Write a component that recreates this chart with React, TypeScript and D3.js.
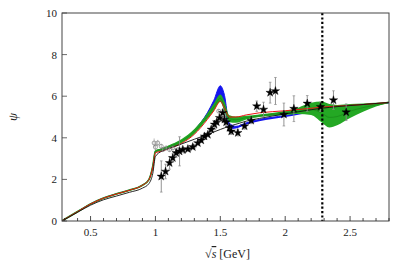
import React, { useRef, useEffect } from 'react';
import * as d3 from 'd3';

// grid of sqrt(s) values (GeV) the theory curves are read at
const xs = [0.28, 0.4, 0.5, 0.6, 0.7, 0.8, 0.9, 0.95, 0.98, 1.0, 1.05, 1.1, 1.2, 1.3, 1.4, 1.45, 1.5, 1.53, 1.57, 1.62, 1.7, 1.8, 2.0, 2.1, 2.2, 2.28, 2.34, 2.4, 2.5, 2.6, 2.7, 2.8];

// green band (upper / lower) and its central line
const greenUp = [0.02, 0.47, 0.84, 1.12, 1.32, 1.5, 1.74, 2.02, 2.68, 3.4, 3.5, 3.63, 3.93, 4.42, 5.18, 5.65, 6.08, 5.78, 5.08, 5.02, 5.06, 5.12, 5.3, 5.45, 5.68, 5.74, 5.62, 5.58, 5.62, 5.65, 5.68, 5.73];
const greenLow = [0, 0.43, 0.8, 1.08, 1.28, 1.46, 1.7, 1.96, 2.6, 3.3, 3.38, 3.48, 3.74, 4.18, 4.9, 5.3, 5.72, 5.3, 4.75, 4.72, 4.88, 5.0, 5.1, 5.15, 5.1, 4.75, 4.5, 4.6, 4.95, 5.25, 5.5, 5.68];
const greenMid = [0.01, 0.45, 0.82, 1.1, 1.3, 1.48, 1.72, 1.99, 2.64, 3.35, 3.44, 3.56, 3.84, 4.3, 5.04, 5.48, 5.9, 5.54, 4.92, 4.87, 4.97, 5.06, 5.2, 5.28, 5.35, 5.2, 4.98, 5.02, 5.28, 5.45, 5.58, 5.7];

// blue band
const blueUp = [0.02, 0.46, 0.83, 1.11, 1.31, 1.49, 1.73, 2.01, 2.66, 3.36, 3.45, 3.57, 3.86, 4.38, 5.2, 5.8, 6.5, 6.1, 4.7, 4.55, 4.72, 4.88, 5.07, 5.17, 5.27, 5.34, 5.38, 5.42, 5.48, 5.55, 5.62, 5.68];
const blueLow = [0, 0.44, 0.81, 1.09, 1.29, 1.47, 1.71, 1.97, 2.62, 3.32, 3.4, 3.5, 3.78, 4.25, 5.0, 5.5, 5.95, 5.45, 4.42, 4.45, 4.64, 4.8, 5.0, 5.11, 5.22, 5.29, 5.33, 5.37, 5.44, 5.52, 5.59, 5.66];

// red central curve
const red = [0.01, 0.45, 0.82, 1.1, 1.3, 1.48, 1.72, 1.99, 2.6, 3.28, 3.36, 3.47, 3.73, 4.17, 4.88, 5.3, 5.76, 5.45, 5.0, 5.0, 5.1, 5.2, 5.3, 5.36, 5.42, 5.47, 5.5, 5.52, 5.56, 5.6, 5.65, 5.7];

// black curve
const black = [0, 0.42, 0.76, 1.02, 1.2, 1.38, 1.58, 1.8, 2.3, 3.1, 3.36, 3.48, 3.7, 3.93, 4.16, 4.28, 4.4, 4.47, 4.56, 4.65, 4.8, 4.93, 5.15, 5.25, 5.35, 5.42, 5.46, 5.5, 5.55, 5.6, 5.65, 5.7];

// star data points with errors
const starX = [1.045, 1.078, 1.109, 1.134, 1.16, 1.186, 1.211, 1.25, 1.288, 1.327, 1.353, 1.378, 1.404, 1.43, 1.455, 1.473, 1.494, 1.519, 1.532, 1.545, 1.571, 1.584, 1.635, 1.687, 1.738, 1.781, 1.833, 1.884, 1.925, 1.99, 2.067, 2.17, 2.272, 2.372, 2.47];
const starY = [2.14, 2.38, 2.79, 3.03, 3.27, 3.35, 3.43, 3.46, 3.56, 3.75, 3.88, 4.07, 4.15, 4.4, 4.64, 4.75, 4.96, 5.2, 4.88, 4.75, 4.48, 4.31, 4.24, 4.56, 4.83, 5.52, 5.36, 6.17, 6.25, 5.12, 5.4, 5.65, 5.49, 5.81, 5.23];
const starErr = [0.75, 0.35, 0.3, 0.2, 0.2, 0.7, 0.12, 0.1, 0.1, 0.1, 0.1, 0.1, 0.1, 0.12, 0.12, 0.12, 0.15, 0.15, 0.15, 0.15, 0.15, 0.15, 0.15, 0.15, 0.15, 0.25, 0.35, 0.5, 0.65, 0.55, 0.62, 0.38, 0.22, 0.45, 0.4];

// open circle data points
const circX = [0.99, 1.0, 1.018, 1.045, 1.057, 1.083, 1.109, 1.134, 1.173, 1.224, 1.263, 1.301, 1.34, 1.378, 1.417, 1.455, 1.481, 1.488];
const circY = [3.75, 3.55, 3.75, 3.59, 3.43, 3.51, 3.43, 3.51, 3.43, 3.35, 3.43, 3.59, 3.83, 4.0, 4.24, 4.48, 4.8, 5.28];
const circErr = [0.22, 0.15, 0.15, 0.12, 0.1, 0.1, 0.1, 0.1, 0.1, 0.1, 0.1, 0.1, 0.1, 0.1, 0.1, 0.1, 0.1, 0.1];

const xTicks = [0.5, 1, 1.5, 2, 2.5];
const yTicks = [0, 2, 4, 6, 8, 10];
const threshold = 2.286;

const W = 411, H = 269;
const margin = { top: 13, right: 22, bottom: 48, left: 62 };
const FONT = '"Liberation Serif", "DejaVu Serif", serif';

export default function App() {
  const svgRef = useRef<SVGSVGElement>(null);

  useEffect(() => {
    const svg = d3.select(svgRef.current);
    svg.selectAll('*').remove();

    const x = d3.scaleLinear().domain([0.28, 2.8]).range([margin.left, W - margin.right]);
    const y = d3.scaleLinear().domain([0, 10]).range([H - margin.bottom, margin.top]);

    const clip = svg.append('clipPath').attr('id', 'plotclip');
    clip.append('rect').attr('x', margin.left).attr('y', margin.top)
      .attr('width', W - margin.left - margin.right).attr('height', H - margin.top - margin.bottom);

    const g = svg.append('g').attr('clip-path', 'url(#plotclip)');

    const band = (up: number[], low: number[]) => d3.area<number>()
      .x((_, i) => x(xs[i])).y0((_, i) => y(low[i])).y1((_, i) => y(up[i]))
      .curve(d3.curveMonotoneX)(xs);
    const line = (vals: number[]) => d3.line<number>()
      .x((_, i) => x(xs[i])).y((_, i) => y(vals[i]))
      .curve(d3.curveMonotoneX)(xs);

    // blue band
    g.append('path').attr('d', band(blueUp, blueLow)).attr('fill', '#1414ee');
    g.append('path').attr('d', line(blueUp)).attr('fill', 'none').attr('stroke', '#1414ee').attr('stroke-width', 1);
    // green band
    g.append('path').attr('d', band(greenUp, greenLow)).attr('fill', '#24a824');
    g.append('path').attr('d', line(greenMid)).attr('fill', 'none').attr('stroke', '#24a824').attr('stroke-width', 1.8);
    g.append('path').attr('d', line(greenMid)).attr('fill', 'none').attr('stroke', '#157a15').attr('stroke-width', 0.5);
    // red line
    g.append('path').attr('d', line(red)).attr('fill', 'none').attr('stroke', '#ee1111').attr('stroke-width', 1);
    // black line
    g.append('path').attr('d', line(black)).attr('fill', 'none').attr('stroke', '#111').attr('stroke-width', 0.9);

    // open circles with errors
    circX.forEach((cx, i) => {
      g.append('line').attr('x1', x(cx)).attr('x2', x(cx))
        .attr('y1', y(circY[i] - circErr[i])).attr('y2', y(circY[i] + circErr[i]))
        .attr('stroke', '#aaa').attr('stroke-width', 0.8);
      g.append('circle').attr('cx', x(cx)).attr('cy', y(circY[i])).attr('r', 2)
        .attr('fill', 'none').attr('stroke', '#666').attr('stroke-width', 0.6);
    });

    // stars with errors
    const star = d3.symbol().type(d3.symbolStar).size(22);
    starX.forEach((sx, i) => {
      const px = x(sx);
      const y0 = y(starY[i] - starErr[i]);
      const y1 = y(starY[i] + starErr[i]);
      g.append('line').attr('x1', px).attr('x2', px).attr('y1', y0).attr('y2', y1)
        .attr('stroke', '#888').attr('stroke-width', 0.9);
      [y0, y1].forEach(yy => g.append('line').attr('x1', px - 1.3).attr('x2', px + 1.3)
        .attr('y1', yy).attr('y2', yy).attr('stroke', '#888').attr('stroke-width', 0.7));
      g.append('path').attr('d', star()).attr('transform', `translate(${px},${y(starY[i])})`)
        .attr('fill', '#000').attr('stroke', '#000').attr('stroke-width', 0.4);
    });

    // threshold dotted line
    svg.append('line').attr('x1', x(threshold)).attr('x2', x(threshold))
      .attr('y1', y(10)).attr('y2', y(0))
      .attr('stroke', '#000').attr('stroke-width', 2.2).attr('stroke-dasharray', '2.2,2.2');

    // frame
    svg.append('rect').attr('x', margin.left).attr('y', margin.top)
      .attr('width', W - margin.left - margin.right).attr('height', H - margin.top - margin.bottom)
      .attr('fill', 'none').attr('stroke', '#444').attr('stroke-width', 1);

    // bottom ticks
    const minor = d3.range(3, 29).map(v => v / 10);
    minor.forEach(v => {
      const major = Math.abs(v * 2 - Math.round(v * 2)) < 1e-6;
      svg.append('line').attr('x1', x(v)).attr('x2', x(v))
        .attr('y1', y(0)).attr('y2', y(0) - (major ? 5 : 3))
        .attr('stroke', '#222').attr('stroke-width', 0.8);
    });
    xTicks.forEach(v => {
      svg.append('text').attr('x', x(v)).attr('y', y(0) + 15).attr('text-anchor', 'middle')
        .style('font-family', FONT).style('font-size', '11px').attr('fill', '#222')
        .text(String(v));
    });

    // left ticks
    yTicks.forEach(v => {
      svg.append('line').attr('x1', x(0.28)).attr('x2', x(0.28) + 5)
        .attr('y1', y(v)).attr('y2', y(v)).attr('stroke', '#444').attr('stroke-width', 0.8);
      svg.append('text').attr('x', margin.left - 5).attr('y', y(v) + 4).attr('text-anchor', 'end')
        .style('font-family', FONT).style('font-size', '11px').attr('fill', '#222')
        .text(String(v));
    });

    // axis labels
    svg.append('text').attr('transform', `translate(17,${(margin.top + H - margin.bottom) / 2}) rotate(-90)`)
      .attr('text-anchor', 'middle').style('font-family', FONT)
      .style('font-style', 'italic').style('font-size', '13px').attr('fill', '#222').text('ψ');

    const xl = svg.append('text').attr('x', (margin.left + W - margin.right) / 2 + 2).attr('y', 258)
      .attr('text-anchor', 'middle').style('font-family', FONT)
      .style('font-size', '12px').attr('fill', '#222');
    xl.append('tspan').text('√');
    xl.append('tspan').style('font-style', 'italic').style('text-decoration', 'overline').text('s');
    xl.append('tspan').text(' [GeV]');
  }, []);

  return (
    <svg ref={svgRef} width={W} height={H} style={{ display: 'block', position: 'absolute', left: 0, top: 0, background: '#fff' }} />
  );
}
